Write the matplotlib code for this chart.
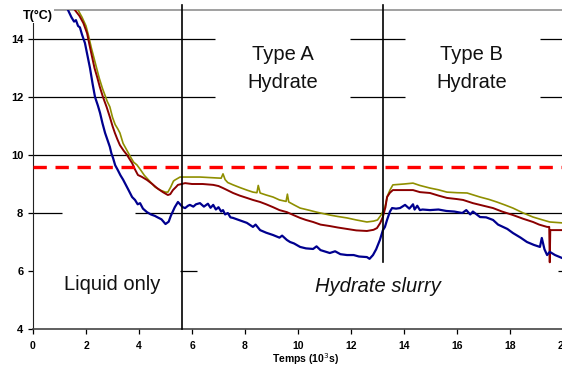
import matplotlib
matplotlib.use("Agg")
import matplotlib.pyplot as plt
from matplotlib import font_manager

# curve data (time in 10^3 s, temperature in °C)
blue_t = [1.32, 1.45, 1.55, 1.62, 1.7, 1.77, 1.85, 1.96, 2.05, 2.15, 2.25, 2.34, 2.45, 2.53,
          2.62, 2.72, 2.8, 2.9, 2.96, 3.02, 3.1, 3.2, 3.3, 3.4, 3.47, 3.6, 3.74, 3.85, 3.95,
          4.04, 4.15, 4.3, 4.45, 4.6, 4.68, 4.85, 5.0, 5.06, 5.12, 5.2, 5.25, 5.35, 5.47,
          5.55, 5.65, 5.74, 5.85, 5.92, 6.05, 6.15, 6.3, 6.45, 6.6, 6.7, 6.8, 6.9, 7.0, 7.1,
          7.17, 7.25, 7.35, 7.45, 7.55, 7.8, 8.07, 8.3, 8.4, 8.57, 8.8, 9.06, 9.3, 9.4, 9.58,
          9.7, 9.85, 10.08, 10.3, 10.57, 10.7, 10.85, 11.2, 11.4, 11.6, 11.85, 12.1, 12.3,
          12.6, 12.7, 12.83, 12.95, 13.09, 13.2, 13.28, 13.36, 13.47, 13.55, 13.7, 13.85,
          14.04, 14.2, 14.34, 14.4, 14.5, 14.6, 14.7, 14.98, 15.3, 15.6, 15.9, 16.2, 16.35,
          16.5, 16.6, 16.87, 17.1, 17.36, 17.55, 17.74, 17.9, 18.11, 18.4, 18.64, 18.9, 19.13,
          19.2, 19.3, 19.4, 19.5, 19.7, 19.96]
blue_T = [15.0, 14.75, 14.6, 14.65, 14.45, 14.4, 14.15, 13.86, 13.45, 13.0, 12.45, 12.0, 11.7,
          11.45, 11.1, 10.76, 10.55, 10.28, 10.05, 9.9, 9.65, 9.48, 9.3, 9.15, 9.03, 8.8, 8.55,
          8.45, 8.3, 8.34, 8.15, 8.03, 7.95, 7.9, 7.86, 7.78, 7.62, 7.66, 7.7, 7.9, 8.0, 8.2,
          8.38, 8.3, 8.2, 8.17, 8.25, 8.28, 8.22, 8.3, 8.34, 8.22, 8.32, 8.18, 8.28, 8.12,
          8.2, 8.05, 8.1, 7.95, 8.0, 7.85, 7.83, 7.75, 7.66, 7.52, 7.6, 7.41, 7.32, 7.24,
          7.15, 7.22, 7.07, 7.0, 6.95, 6.83, 6.78, 6.76, 6.85, 6.72, 6.62, 6.68, 6.58, 6.55,
          6.55, 6.5, 6.48, 6.42, 6.55, 6.75, 7.07, 7.4, 7.52, 7.76, 8.05, 8.17, 8.15, 8.17,
          8.28, 8.15, 8.3, 8.12, 8.25, 8.1, 8.12, 8.1, 8.12, 8.07, 8.05, 8.0, 8.1, 7.95, 8.05,
          7.86, 7.85, 7.76, 7.6, 7.52, 7.45, 7.31, 7.15, 7.0, 6.9, 6.83, 7.14, 6.75, 6.55,
          6.66, 6.55, 6.45]

red_t = [1.58, 1.75, 1.9, 2.04, 2.13, 2.23, 2.32, 2.42, 2.52, 2.64, 2.78, 2.9, 3.0, 3.09, 3.18,
         3.28, 3.42, 3.55, 3.65, 3.74, 3.85, 3.96, 4.1, 4.3, 4.5, 4.68, 4.9, 5.09, 5.18, 5.28,
         5.4, 5.47, 5.74, 6.0, 6.4, 6.8, 7.0, 7.17, 7.35, 7.55, 7.8, 8.07, 8.3, 8.57, 8.8,
         9.06, 9.3, 9.58, 9.85, 10.08, 10.3, 10.57, 10.85, 11.2, 11.5, 11.85, 12.2, 12.6,
         12.85, 12.98, 13.1, 13.2, 13.3, 13.36, 13.47, 13.58, 14.0, 14.34, 14.6, 14.98, 15.3,
         15.62, 16.0, 16.23, 16.6, 17.0, 17.36, 17.7, 18.11, 18.5, 18.87, 19.1, 19.4, 19.48,
         19.5, 19.52, 20.0]
red_T = [15.0, 14.8, 14.55, 14.2, 13.8, 13.38, 13.0, 12.69, 12.35, 12.0, 11.65, 11.31, 11.0,
         10.76, 10.55, 10.34, 10.15, 10.0, 9.85, 9.72, 9.5, 9.31, 9.25, 9.14, 9.0, 8.86, 8.72,
         8.62, 8.65, 8.79, 8.9, 8.97, 9.03, 9.0, 9.0, 8.97, 8.93, 8.86, 8.78, 8.69, 8.6, 8.52,
         8.45, 8.38, 8.3, 8.2, 8.1, 8.03, 7.92, 7.83, 7.76, 7.69, 7.6, 7.55, 7.5, 7.45, 7.4,
         7.38, 7.42, 7.48, 7.65, 7.86, 8.2, 8.55, 8.7, 8.79, 8.79, 8.79, 8.72, 8.69, 8.6,
         8.52, 8.48, 8.45, 8.34, 8.25, 8.17, 8.05, 7.93, 7.8, 7.69, 7.6, 7.52, 7.52, 6.3,
         7.41, 7.41]

olive_t = [1.7, 1.85, 2.0, 2.1, 2.2, 2.3, 2.4, 2.5, 2.62, 2.72, 2.8, 2.9, 3.0, 3.1, 3.2, 3.28,
           3.4, 3.55, 3.7, 3.8, 3.92, 4.05, 4.2, 4.4, 4.6, 4.79, 5.0, 5.09, 5.2, 5.3, 5.36,
           5.55, 6.3, 7.1, 7.17, 7.25, 7.35, 7.55, 7.8, 8.07, 8.3, 8.45, 8.5, 8.57, 8.8, 9.06,
           9.3, 9.55, 9.6, 9.65, 9.85, 10.08, 10.4, 10.7, 11.0, 11.2, 11.5, 11.85, 12.2, 12.6,
           12.85, 13.0, 13.15, 13.28, 13.38, 13.47, 13.58, 14.0, 14.34, 14.6, 14.98, 15.3,
           15.62, 16.0, 16.38, 16.87, 17.2, 17.5, 17.8, 18.11, 18.5, 18.87, 19.2, 19.5, 19.96]
olive_T = [15.0, 14.75, 14.45, 14.1, 13.7, 13.35, 13.0, 12.65, 12.3, 12.05, 11.85, 11.66, 11.3,
           11.05, 10.9, 10.76, 10.4, 10.15, 9.9, 9.75, 9.66, 9.5, 9.3, 9.1, 8.9, 8.79, 8.72,
           8.72, 8.9, 9.1, 9.14, 9.24, 9.24, 9.2, 9.35, 9.15, 9.05, 8.97, 8.88, 8.79, 8.72,
           8.7, 8.95, 8.69, 8.62, 8.55, 8.45, 8.4, 8.65, 8.38, 8.28, 8.17, 8.1, 8.03, 7.97,
           7.93, 7.88, 7.83, 7.76, 7.69, 7.72, 7.76, 7.95, 8.2, 8.6, 8.79, 8.97, 9.0, 9.03,
           8.95, 8.86, 8.8, 8.72, 8.7, 8.69, 8.55, 8.47, 8.38, 8.28, 8.17, 8.0, 7.86, 7.77,
           7.69, 7.66]

limit_T = 9.6
phase_t = [5.64, 13.2]
yticks = [4, 6, 8, 10, 12, 14]
xticks = [0, 2, 4, 6, 8, 10, 12, 14, 16, 18, 20]

narrow = "Liberation Sans Narrow"
names = {f.name for f in font_manager.fontManager.ttflist}
big = 17
if narrow not in names:
    narrow = "Liberation Sans"
    big = 14.5
plt.rcParams["font.family"] = ["Liberation Sans", "DejaVu Sans"]

fig = plt.figure(figsize=(5.62, 3.68), dpi=100)
ax = fig.add_axes([33 / 562, 39 / 368, 530 / 562, 319 / 368])
ax.set_xlim(0, 20)
ax.set_ylim(4, 15)

# grid lines, broken where the text boxes sit
ax.hlines([14, 12], 0, 6.87, color="black", lw=0.9, zorder=1)
ax.hlines([14, 12], 11.96, 14.04, color="black", lw=0.9, zorder=1)
ax.hlines([14, 12], 19.13, 20, color="black", lw=0.9, zorder=1)
ax.hlines(10, 0, 20, color="black", lw=0.9, zorder=1)
ax.hlines(8, 0, 1.1, color="black", lw=0.9, zorder=1)
ax.hlines(8, 3.85, 20, color="black", lw=0.9, zorder=1)
ax.hlines(6, 5.55, 6.2, color="black", lw=0.9, zorder=1)
ax.hlines(6, 19.8, 20, color="black", lw=0.9, zorder=1)

ax.plot(olive_t, olive_T, color="#8f8f00", lw=1.2, zorder=3)
ax.plot(red_t, red_T, color="#8b0000", lw=1.4, zorder=4)
ax.plot(blue_t, blue_T, color="#00008f", lw=1.6, zorder=5)

ax.axhline(limit_T, color="#ff0000", lw=2.4, ls=(0, (4, 2.6)), zorder=6)

ax.plot([phase_t[0], phase_t[0]], [4, 15.17], color="black", lw=1.2, clip_on=False, zorder=7)
ax.plot([phase_t[1], phase_t[1]], [6.3, 15.17], color="black", lw=1.2, clip_on=False, zorder=7)

tk = dict(fontsize=big, family=narrow, ha="center", va="baseline", color="#111111")
ax.text(9.42, 13.28, "Type A", **tk)
ax.text(9.42, 12.31, "Hydrate", **tk)
ax.text(16.55, 13.28, "Type B", **tk)
ax.text(16.55, 12.31, "Hydrate", **tk)
ax.text(2.97, 5.34, "Liquid only", **tk)
ax.text(13.0, 5.28, "Hydrate slurry", style="italic", **tk)

ax.spines["right"].set_visible(False)
ax.spines["top"].set_color("#999999")
ax.spines["top"].set_linewidth(1.3)
ax.spines["left"].set_color("#222222")
ax.spines["bottom"].set_color("#444444")
ax.spines["bottom"].set_linewidth(1.2)

ax.set_yticks(yticks)
ax.set_xticks(xticks)
ax.tick_params(axis="both", direction="out", length=3.5, width=0.9, labelsize=8)
ax.tick_params(axis="x", pad=5, labelsize=7.5)
for lab in ax.get_xticklabels() + ax.get_yticklabels():
    lab.set_fontweight("bold")

ax.set_xlabel("Temps (10$^{3}$s)", fontsize=7.5, fontweight="bold")
ax.xaxis.set_label_coords(0.514, -0.07)
fig.text(22.7 / 562, 1 - 18.5 / 368, "T(°C)", fontsize=9, fontweight="bold",
         ha="left", va="baseline",
         bbox=dict(facecolor="white", edgecolor="none", pad=1))

fig.savefig("out.png", dpi=100)
